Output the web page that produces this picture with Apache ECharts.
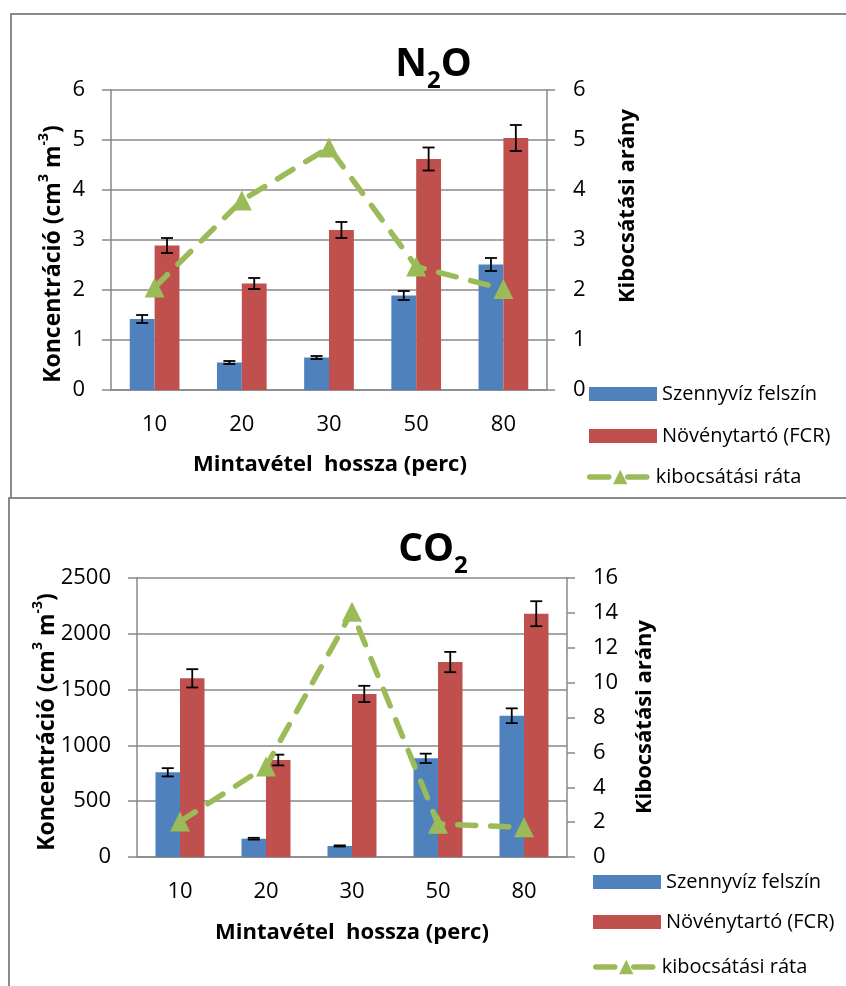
<!DOCTYPE html>
<html>
<head>
<meta charset="utf-8">
<script src="https://cdn.jsdelivr.net/npm/echarts@6/dist/echarts.min.js"></script>
<style>
html,body{margin:0;padding:0;background:#fff;}
#chart{width:846px;height:986px;}
</style>
</head>
<body>
<div id="chart"></div>
<script>
// ---- data ----
const categories = ['10', '20', '30', '50', '80'];
const seriesNames = ['Szennyvíz felszín', 'Növénytartó (FCR)', 'kibocsátási ráta'];

const n2oSurface    = [1.42, 0.55, 0.65, 1.89, 2.51];
const n2oSurfaceErr = [0.08, 0.03, 0.03, 0.09, 0.13];
const n2oFCR        = [2.89, 2.13, 3.20, 4.62, 5.04];
const n2oFCRErr     = [0.15, 0.11, 0.16, 0.23, 0.26];
const n2oRate       = [2.05, 3.79, 4.85, 2.47, 2.02];

const co2Surface    = [759, 164, 99, 884, 1266];
const co2SurfaceErr = [37, 8, 5, 42, 66];
const co2FCR        = [1601, 869, 1461, 1747, 2180];
const co2FCRErr     = [82, 48, 73, 91, 112];
const co2Rate       = [2.03, 5.19, 14.07, 1.90, 1.70];

const n2oLeftRange  = [0, 6, 1];
const n2oRightRange = [0, 6, 1];
const co2LeftRange  = [0, 2500, 500];
const co2RightRange = [0, 16, 2];

// ---- style ----
const FONT = "'Open Sans', 'Noto Sans', sans-serif";
const AX = '#888888';
const BLUE = '#4F81BD', RED = '#C0504D', GREEN = '#9BBB59';
const GAP = 0.43;
const TICK_FS = 22;

function errData(vals, errs) { return vals.map((v, i) => [i, v, errs[i]]); }

function errRender(sign) {
  return function (params, api) {
    const i = api.value(0), v = api.value(1), e = api.value(2);
    const catW = api.size([1, 0])[0];
    const bw = catW * (1 - GAP) / 2;
    const cx = api.coord([i, v])[0] + sign * bw / 2;
    const yt = api.coord([i, v + e])[1];
    const yb = api.coord([i, v - e])[1];
    const cap = 6;
    const st = { stroke: '#000', lineWidth: 1.8 };
    return {
      type: 'group',
      children: [
        { type: 'line', shape: { x1: cx, y1: yt, x2: cx, y2: yb }, style: st },
        { type: 'line', shape: { x1: cx - cap, y1: yt, x2: cx + cap, y2: yt }, style: st },
        { type: 'line', shape: { x1: cx - cap, y1: yb, x2: cx + cap, y2: yb }, style: st }
      ]
    };
  };
}

const plainNum = v => String(v);

function leftAxis(grid, r) {
  return {
    type: 'value', gridIndex: grid, position: 'left', min: r[0], max: r[1], interval: r[2],
    axisLine: { show: true, lineStyle: { color: AX, width: 1.5 } },
    axisTick: { show: true, length: 9, lineStyle: { color: AX, width: 1.5 } },
    splitLine: { show: true, lineStyle: { color: AX, width: 1.5 } },
    axisLabel: { fontSize: TICK_FS, color: '#000', margin: 26, fontFamily: FONT, formatter: plainNum }
  };
}
function rightAxis(grid, r) {
  return {
    type: 'value', gridIndex: grid, position: 'right', min: r[0], max: r[1], interval: r[2],
    axisLine: { show: true, lineStyle: { color: AX, width: 1.5 } },
    axisTick: { show: true, length: 8, lineStyle: { color: AX, width: 1.5 } },
    splitLine: { show: false },
    axisLabel: { fontSize: TICK_FS, color: '#000', margin: 26, fontFamily: FONT, formatter: plainNum }
  };
}
function catAxis(grid) {
  return {
    type: 'category', gridIndex: grid, data: categories,
    axisLine: { show: true, lineStyle: { color: AX, width: 1.5 } },
    axisTick: { show: false },
    axisLabel: { fontSize: TICK_FS, color: '#000', margin: 24, fontFamily: FONT }
  };
}

function chartSeries(grid, surf, surfErr, fcr, fcrErr, rate) {
  const xi = grid, yl = grid * 2, yr = grid * 2 + 1;
  return [
    { name: seriesNames[0], type: 'bar', xAxisIndex: xi, yAxisIndex: yl, data: surf,
      barGap: '0%', barCategoryGap: (GAP * 100) + '%', itemStyle: { color: BLUE } },
    { name: seriesNames[1], type: 'bar', xAxisIndex: xi, yAxisIndex: yl, data: fcr,
      barGap: '0%', barCategoryGap: (GAP * 100) + '%', itemStyle: { color: RED } },
    { name: 'err1_' + grid, type: 'custom', xAxisIndex: xi, yAxisIndex: yl, silent: true, z: 5,
      encode: { x: 0, y: 1 }, data: errData(surf, surfErr), renderItem: errRender(-1) },
    { name: 'err2_' + grid, type: 'custom', xAxisIndex: xi, yAxisIndex: yl, silent: true, z: 5,
      encode: { x: 0, y: 1 }, data: errData(fcr, fcrErr), renderItem: errRender(1) },
    { name: seriesNames[2], type: 'line', xAxisIndex: xi, yAxisIndex: yr, data: rate, z: 6,
      symbol: 'triangle', symbolSize: 20,
      itemStyle: { color: GREEN },
      lineStyle: { color: GREEN, width: 5.5, type: [18, 15], cap: 'round' } }
  ];
}

function legendItem(name, left, top, isLine) {
  const l = {
    data: [isLine ? { name: name } : { name: name, icon: 'rect' }],
    left: left, top: top, padding: 0, orient: 'vertical',
    itemWidth: isLine ? 61 : 68, itemHeight: isLine ? 18 : 14,
    selectedMode: false,
    textStyle: { fontSize: 20, color: '#000', fontFamily: FONT }
  };
  if (isLine) {
    l.lineStyle = { color: GREEN, width: 5.5, type: [19, 19], cap: 'round' };
    l.itemStyle = { color: GREEN };
  }
  return l;
}

const boldName = { fontSize: 22, fontWeight: 'bold', fill: '#000', fontFamily: FONT };

function concLabel(x, y) {
  return {
    type: 'text', x: x, y: y, rotation: Math.PI / 2,
    style: {
      text: '{t|Koncentráció (cm}{s|3}{t| m}{s|-3}{t|)}',
      align: 'center', verticalAlign: 'middle',
      rich: {
        t: { fontSize: 23, fontWeight: 'bold', fontFamily: FONT, lineHeight: 28, verticalAlign: 'bottom' },
        s: { fontSize: 14, fontWeight: 'bold', fontFamily: FONT, lineHeight: 14, verticalAlign: 'top' }
      }
    }
  };
}
function rateLabel(x, y) {
  return {
    type: 'text', x: x, y: y, rotation: Math.PI / 2,
    style: Object.assign({ text: 'Kibocsátási arány', align: 'center', verticalAlign: 'middle' }, boldName)
  };
}
function xName(x, y) {
  return {
    type: 'text', x: x, y: y,
    style: Object.assign({ text: 'Mintavétel  hossza (perc)', align: 'center', verticalAlign: 'middle' }, boldName)
  };
}
function titleText(txt, x, y) {
  return {
    type: 'text', x: x, y: y,
    style: {
      text: txt, align: 'center', verticalAlign: 'top',
      rich: {
        a: { fontSize: 39, fontWeight: 'bold', fontFamily: FONT, lineHeight: 40, verticalAlign: 'top' },
        b: { fontSize: 24, fontWeight: 'bold', fontFamily: FONT, lineHeight: 24, padding: [24, 0, 0, 0], verticalAlign: 'top' }
      }
    }
  };
}

const option = {
  backgroundColor: '#fff',
  animation: false,
  textStyle: { fontFamily: FONT },
  grid: [
    { left: 111, right: 299, top: 90, bottom: 596 },
    { left: 137, right: 279, top: 578, bottom: 129 }
  ],
  xAxis: [catAxis(0), catAxis(1)],
  yAxis: [leftAxis(0, n2oLeftRange), rightAxis(0, n2oRightRange), leftAxis(1, co2LeftRange), rightAxis(1, co2RightRange)],
  legend: [
    legendItem(seriesNames[0], 589, 384, false),
    legendItem(seriesNames[1], 589, 426, false),
    legendItem(seriesNames[2], 587, 467, true),
    legendItem(seriesNames[0], 593, 872, false),
    legendItem(seriesNames[1], 593, 912, false),
    legendItem(seriesNames[2], 593, 957, true)
  ],
  series: [].concat(
    chartSeries(0, n2oSurface, n2oSurfaceErr, n2oFCR, n2oFCRErr, n2oRate),
    chartSeries(1, co2Surface, co2SurfaceErr, co2FCR, co2FCRErr, co2Rate)
  ),
  graphic: [
    { type: 'rect', shape: { x: 11, y: 14, width: 900, height: 484 }, style: { fill: 'none', stroke: '#8a8a8a', lineWidth: 2 }, z: -10 },
    { type: 'rect', shape: { x: 9, y: 498, width: 900, height: 600 }, style: { fill: 'none', stroke: '#8a8a8a', lineWidth: 2 }, z: -10 },
    titleText('{a|N}{b|2}{a|O}', 433.5, 45),
    titleText('{a|CO}{b|2}', 433, 530),
    concLabel(51, 254),
    concLabel(45, 722),
    rateLabel(627.5, 206),
    rateLabel(645, 717),
    xName(330, 465),
    xName(352, 933)
  ]
};

const chart = echarts.init(document.getElementById('chart'), null, { renderer: 'canvas' });
chart.setOption(option);
</script>
</body>
</html>
